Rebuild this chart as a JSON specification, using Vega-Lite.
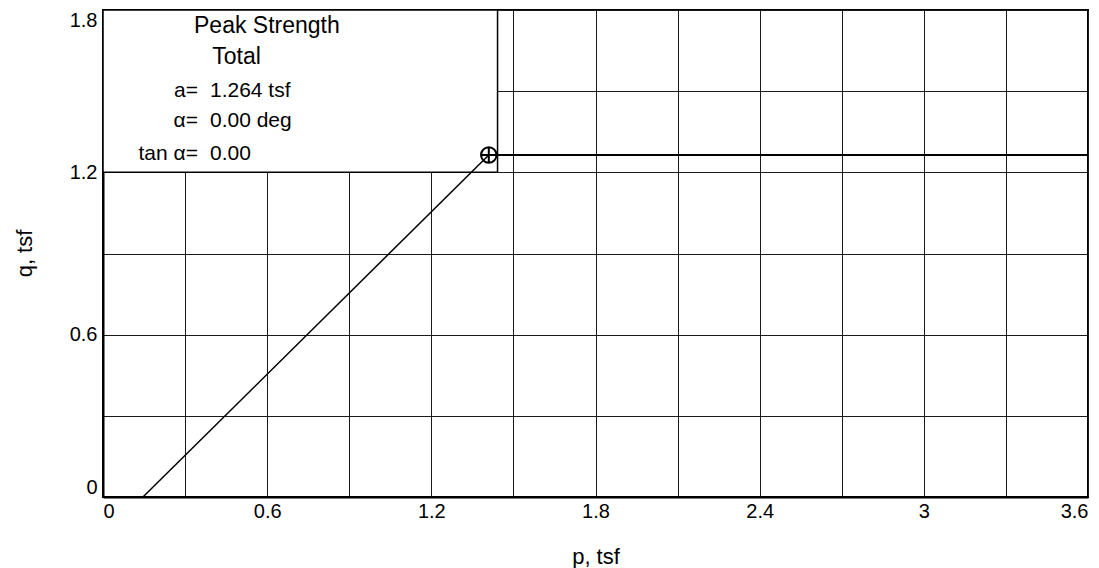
{
  "$schema": "https://vega.github.io/schema/vega-lite/v6.json",
  "width": 985,
  "height": 487,
  "autosize": {"type": "none"},
  "padding": {"left": 103, "top": 10, "right": 11, "bottom": 71},
  "background": "white",
  "config": {
    "view": {"stroke": "black", "strokeWidth": 2},
    "font": "Liberation Sans",
    "text": {"font": "Liberation Sans", "color": "black"}
  },
  "datasets": {
    "envelope": [{"p": 0, "q": 1.264}, {"p": 3.6, "q": 1.264}],
    "path": [{"p": 0.146, "q": 0}, {"p": 1.41, "q": 1.264}],
    "peak": [{"p": 1.41, "q": 1.264}],
    "one": [{}]
  },
  "layer": [
    {
      "data": {"name": "envelope"},
      "mark": {"type": "line", "color": "black", "strokeWidth": 2},
      "encoding": {
        "x": {
          "field": "p", "type": "quantitative",
          "scale": {"domain": [0, 3.6], "nice": false, "zero": false},
          "axis": {
            "values": [0, 0.3, 0.6, 0.9, 1.2, 1.5, 1.8, 2.1, 2.4, 2.7, 3, 3.3, 3.6],
            "format": "~g",
            "labelExpr": "indexof(['0','0.6','1.2','1.8','2.4','3','3.6'], datum.label) >= 0 ? datum.label : ''",
            "labelOverlap": false,
            "grid": true, "gridColor": "#1a1a1a", "gridWidth": 1, "gridOpacity": 1,
            "ticks": false,
            "domainColor": "black", "domainWidth": 2,
            "labelFlush": true, "labelFlushOffset": 0,
            "labelFont": "Liberation Sans", "labelFontSize": 20, "labelColor": "black", "labelPadding": 4,
            "title": "p, tsf", "titleFont": "Liberation Sans", "titleFontSize": 22, "titleFontWeight": "normal",
            "titleColor": "black", "titleBaseline": "alphabetic", "titleY": 66
          }
        },
        "y": {
          "field": "q", "type": "quantitative",
          "scale": {"domain": [0, 1.8], "nice": false, "zero": false},
          "axis": {
            "values": [0, 0.3, 0.6, 0.9, 1.2, 1.5, 1.8],
            "format": "~g",
            "labelExpr": "indexof(['0','0.6','1.2','1.8'], datum.label) >= 0 ? datum.label : ''",
            "labelOverlap": false,
            "grid": true, "gridColor": "#1a1a1a", "gridWidth": 1, "gridOpacity": 1,
            "ticks": false,
            "domainColor": "black", "domainWidth": 2,
            "labelFlush": true, "labelFlushOffset": 0,
            "labelFont": "Liberation Sans", "labelFontSize": 20, "labelColor": "black", "labelPadding": 6,
            "title": "q, tsf", "titleFont": "Liberation Sans", "titleFontSize": 22, "titleFontWeight": "normal",
            "titleColor": "black", "titleAngle": 270, "titleBaseline": "alphabetic", "titleX": -72, "titleY": 243
          }
        }
      }
    },
    {
      "data": {"name": "one"},
      "mark": {"type": "rect", "fill": "white", "stroke": "black", "strokeWidth": 1.5},
      "encoding": {
        "x": {"datum": 0}, "x2": {"datum": 1.442},
        "y": {"datum": 1.2}, "y2": {"datum": 1.8}
      }
    },
    {
      "data": {"name": "path"},
      "mark": {"type": "line", "color": "black", "strokeWidth": 1.5},
      "encoding": {
        "x": {"field": "p", "type": "quantitative"},
        "y": {"field": "q", "type": "quantitative"}
      }
    },
    {
      "data": {"name": "peak"},
      "mark": {
        "type": "point", "filled": false, "stroke": "black", "strokeWidth": 2, "opacity": 1,
        "shape": "M-1,0A1,1,0,1,1,1,0A1,1,0,1,1,-1,0ZM-1,0L1,0M0,-1L0,1",
        "size": 240
      },
      "encoding": {
        "x": {"field": "p", "type": "quantitative"},
        "y": {"field": "q", "type": "quantitative"}
      }
    },
    {
      "data": {"name": "one"},
      "mark": {"type": "text", "fontSize": 23, "align": "center", "baseline": "alphabetic"},
      "encoding": {"x": {"datum": 0.599}, "y": {"datum": 1.715}, "text": {"value": "Peak Strength"}}
    },
    {
      "data": {"name": "one"},
      "mark": {"type": "text", "fontSize": 23, "align": "center", "baseline": "alphabetic"},
      "encoding": {"x": {"datum": 0.488}, "y": {"datum": 1.6}, "text": {"value": "Total"}}
    },
    {
      "data": {"name": "one"},
      "mark": {"type": "text", "fontSize": 21, "align": "right", "baseline": "alphabetic"},
      "encoding": {"x": {"datum": 0.347}, "y": {"datum": 1.478}, "text": {"value": "a="}}
    },
    {
      "data": {"name": "one"},
      "mark": {"type": "text", "fontSize": 21, "align": "left", "baseline": "alphabetic"},
      "encoding": {"x": {"datum": 0.391}, "y": {"datum": 1.478}, "text": {"value": "1.264 tsf"}}
    },
    {
      "data": {"name": "one"},
      "mark": {"type": "text", "fontSize": 21, "align": "right", "baseline": "alphabetic"},
      "encoding": {"x": {"datum": 0.347}, "y": {"datum": 1.368}, "text": {"value": "α="}}
    },
    {
      "data": {"name": "one"},
      "mark": {"type": "text", "fontSize": 21, "align": "left", "baseline": "alphabetic"},
      "encoding": {"x": {"datum": 0.391}, "y": {"datum": 1.368}, "text": {"value": "0.00 deg"}}
    },
    {
      "data": {"name": "one"},
      "mark": {"type": "text", "fontSize": 21, "align": "right", "baseline": "alphabetic"},
      "encoding": {"x": {"datum": 0.347}, "y": {"datum": 1.246}, "text": {"value": "tan α="}}
    },
    {
      "data": {"name": "one"},
      "mark": {"type": "text", "fontSize": 21, "align": "left", "baseline": "alphabetic"},
      "encoding": {"x": {"datum": 0.391}, "y": {"datum": 1.246}, "text": {"value": "0.00"}}
    }
  ]
}
